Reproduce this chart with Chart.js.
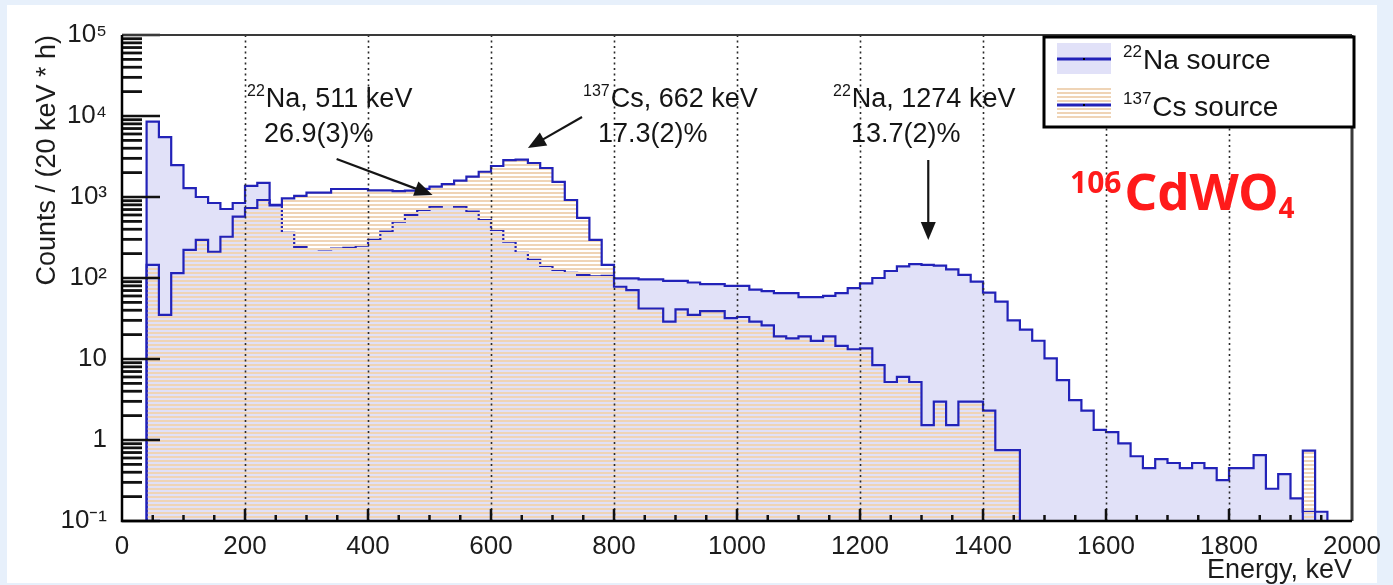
<!DOCTYPE html>
<html>
<head>
<meta charset="utf-8">
<script src="https://cdn.jsdelivr.net/npm/chart.js@4.4.1/dist/chart.umd.min.js"></script>
<style>
  html, body { margin: 0; padding: 0; }
  body { width: 1393px; height: 585px; background: #e7f0fb; position: relative; overflow: hidden; }
  #panel { position: absolute; left: 7px; top: 5px; width: 1370px; height: 578px; background: #fff; }
  #spectrum { position: absolute; left: 0; top: 0; }
</style>
</head>
<body>
<div id="panel"></div>
<canvas id="spectrum" width="1393" height="585"></canvas>
<script>
// Energy spectra, 20 keV bins from 0 to 2000 keV
const binWidth = 20;
const energyMax = 2000;

// 22Na source, counts / (20 keV * h)
const naCounts = [
  0, 0, 8500, 5500, 2480, 1290, 1000, 843, 711, 843,
  1370, 1490, 790, 360, 240, 228, 225, 230, 235, 250,
  295, 373, 495, 600, 692, 760, 797, 760, 658, 520,
  392, 281, 204, 167, 141, 126, 116, 109, 105, 106,
  99, 99, 96, 96, 92, 92, 88, 84, 84, 80,
  80, 72, 69, 65, 65, 58, 58, 60, 65, 75,
  86, 100, 122, 139, 148, 145, 142, 128, 109, 90,
  66, 51, 30, 23, 16.8, 10.2, 5.5, 3.1, 2.3, 1.33,
  1.25, 0.91, 0.63, 0.45, 0.58, 0.52, 0.45, 0.52, 0.45, 0.32,
  0.45, 0.45, 0.65, 0.25, 0.38, 0.19, 0.13, 0.13, 0, 0
];

// 137Cs source, counts / (20 keV * h)
const csCounts = [
  0, 0, 145, 35, 115, 222, 295, 211, 323, 572,
  731, 918, 800, 960, 1030, 1130, 1130, 1255, 1255, 1255,
  1210, 1210, 1180, 1200, 1260, 1340, 1445, 1590, 1780, 2050,
  2415, 2850, 2900, 2630, 2280, 1540, 918, 551, 295, 145,
  78, 71, 42, 42, 29, 41, 35, 39, 39, 32,
  33, 29, 26, 19, 18, 19, 16.7, 19, 14.5, 13.2,
  13.5, 8.4, 5.2, 6.0, 5.2, 1.53, 2.97, 1.53, 2.97, 2.97,
  2.3, 0.75, 0.75, 0, 0, 0, 0, 0, 0, 0,
  0, 0, 0, 0, 0, 0, 0, 0, 0, 0,
  0, 0, 0, 0, 0, 0, 0.74, 0, 0, 0
];

const xTickValues = [0, 200, 400, 600, 800, 1000, 1200, 1400, 1600, 1800, 2000];
const xTickLabels = ['0', '200', '400', '600', '800', '1000', '1200', '1400', '1600', '1800', '2000'];
const yTickValues = [0.1, 1, 10, 100, 1000, 10000, 100000];
const yTickLabels = ['10\u207B\u00B9', '1', '10', '10\u00B2', '10\u00B3', '10\u2074', '10\u2075'];

const yMin = 0.1;
const FONT = "'Liberation Sans', Arial, Helvetica, sans-serif";
const lineBlue = '#2222b8';
const lavender = '#e1e1f8';

Chart.defaults.font.family = FONT;
Chart.defaults.color = '#1c1c1c';

// histogram -> step points (left bin edges + closing edge); empty bins sit on the axis floor
function toSteps(counts) {
  const pts = counts.map((c, i) => ({ x: i * binWidth, y: c > 0 ? c : yMin }));
  pts.push({ x: energyMax, y: pts[pts.length - 1].y });
  return pts;
}

const canvas = document.getElementById('spectrum');
const ctx = canvas.getContext('2d');

// horizontal hatch used for the Cs histogram
const tile = document.createElement('canvas');
tile.width = 4; tile.height = 4;
const tctx = tile.getContext('2d');
tctx.fillStyle = 'rgb(239,212,182)';
tctx.fillRect(0, 0, 4, 2);
const hatch = ctx.createPattern(tile, 'repeat');

function supText(c, x, base, sup, main, size) {
  c.font = `${Math.round(size * 0.6)}px ${FONT}`;
  c.fillText(sup, x, base - size * 0.42);
  const w = c.measureText(sup).width;
  c.font = `${size}px ${FONT}`;
  c.fillText(main, x + w + 1, base);
}

function arrow(c, x0, y0, x1, y1) {
  const ang = Math.atan2(y1 - y0, x1 - x0);
  const L = 18, W = 7.5;
  c.beginPath();
  c.moveTo(x0, y0);
  c.lineTo(x1 - Math.cos(ang) * L * 0.8, y1 - Math.sin(ang) * L * 0.8);
  c.stroke();
  c.beginPath();
  c.moveTo(x1, y1);
  c.lineTo(x1 - Math.cos(ang) * L - Math.sin(ang) * W, y1 - Math.sin(ang) * L + Math.cos(ang) * W);
  c.lineTo(x1 - Math.cos(ang) * L + Math.sin(ang) * W, y1 - Math.sin(ang) * L - Math.cos(ang) * W);
  c.closePath();
  c.fill();
}

// arrows of the peak labels, in data units (keV, counts)
const peakArrows = [
  { from: [349, 2944], to: [505, 1060] },
  { from: [748, 9700], to: [660, 4030] },
  { from: [1311, 2864], to: [1311, 295] }
];

const rootStyle = {
  id: 'rootStyle',
  afterDraw(chart) {
    const { ctx: c, chartArea: a, scales: { x, y } } = chart;
    c.save();

    // dotted vertical grid
    c.strokeStyle = '#2a2a2a';
    c.lineWidth = 1.6;
    c.setLineDash([2, 3.5]);
    xTickValues.slice(1, -1).forEach(v => {
      const px = Math.round(x.getPixelForValue(v)) + 0.5;
      c.beginPath(); c.moveTo(px, a.top); c.lineTo(px, a.bottom); c.stroke();
    });
    c.setLineDash([]);

    // tick marks inside the frame
    c.strokeStyle = '#111';
    c.lineWidth = 2.5;
    for (let v = 50; v < energyMax; v += 50) {
      const px = x.getPixelForValue(v);
      const len = v % 200 === 0 ? 12 : 6;
      c.beginPath(); c.moveTo(px, a.bottom); c.lineTo(px, a.bottom - len); c.stroke();
    }
    yTickValues.forEach((d, i) => {
      const py = y.getPixelForValue(d);
      c.lineWidth = 2.5;
      c.beginPath(); c.moveTo(a.left, py); c.lineTo(a.left + 38, py); c.stroke();
      if (i < yTickValues.length - 1) {
        c.lineWidth = 2.8;
        for (let m = 2; m <= 9; m++) {
          const pm = y.getPixelForValue(d * m);
          c.beginPath(); c.moveTo(a.left, pm); c.lineTo(a.left + 20, pm); c.stroke();
        }
      }
    });

    // frame
    c.strokeStyle = '#3a3a3a';
    c.lineWidth = 2;
    c.beginPath(); c.moveTo(a.left, a.top); c.lineTo(a.right, a.top); c.stroke();
    c.lineWidth = 3;
    c.beginPath(); c.moveTo(a.right, a.top); c.lineTo(a.right, a.bottom); c.stroke();
    c.strokeStyle = '#000';
    c.lineWidth = 2.5;
    c.beginPath(); c.moveTo(a.left, a.top); c.lineTo(a.left, a.bottom); c.lineTo(a.right, a.bottom); c.stroke();

    // peak labels
    c.fillStyle = '#151515';
    c.textBaseline = 'alphabetic';
    c.textAlign = 'left';
    supText(c, a.left + 125, a.top + 72, '22', 'Na, 511 keV', 27);
    c.fillText('26.9(3)%', a.left + 142, a.top + 107);
    supText(c, a.left + 461, a.top + 72, '137', 'Cs, 662 keV', 27);
    c.fillText('17.3(2)%', a.left + 476, a.top + 107);
    supText(c, a.left + 711, a.top + 72, '22', 'Na, 1274 keV', 27);
    c.fillText('13.7(2)%', a.left + 729, a.top + 107);

    c.strokeStyle = '#151515';
    c.lineWidth = 2.2;
    peakArrows.forEach(ar => {
      arrow(c, x.getPixelForValue(ar.from[0]), y.getPixelForValue(ar.from[1]),
               x.getPixelForValue(ar.to[0]), y.getPixelForValue(ar.to[1]));
    });

    // crystal label
    c.fillStyle = '#ff1a1a';
    let tx = a.left + 948;
    c.font = `bold 30px 'Noto Sans', ${FONT}`;
    c.fillText('106', tx, a.top + 158);
    tx += c.measureText('106').width + 3;
    c.font = `bold 51px 'Noto Sans', ${FONT}`;
    c.fillText('CdWO', tx, a.top + 175);
    tx += c.measureText('CdWO').width;
    c.font = `bold 28px 'Noto Sans', ${FONT}`;
    c.fillText('4', tx, a.top + 183);

    // legend box
    const lx = a.left + 922, ly = a.top + 2, lw = a.right + 2 - (a.left + 922), lh = 90;
    c.fillStyle = '#fff';
    c.fillRect(lx, ly, lw, lh);
    c.strokeStyle = '#000';
    c.lineWidth = 3;
    c.strokeRect(lx, ly, lw, lh);

    c.fillStyle = lavender;
    c.fillRect(lx + 13, ly + 6, 54, 31);
    c.fillStyle = hatch;
    c.fillRect(lx + 13, ly + 51, 54, 32);
    c.strokeStyle = lineBlue;
    c.lineWidth = 3;
    [ly + 22, ly + 68].forEach(yy => {
      c.beginPath(); c.moveTo(lx + 13, yy); c.lineTo(lx + 67, yy); c.stroke();
      c.fillStyle = '#000';
      c.fillRect(lx + 39, yy - 1, 2, 2);
    });

    c.fillStyle = '#151515';
    supText(c, lx + 79, ly + 32, '22', 'Na source', 28);
    supText(c, lx + 79, ly + 79, '137', 'Cs source', 28);

    c.restore();
  }
};

new Chart(ctx, {
  type: 'line',
  data: {
    datasets: [
      {
        label: '137Cs source',
        data: toSteps(csCounts),
        stepped: 'before',
        borderColor: lineBlue,
        borderWidth: 2.2,
        backgroundColor: hatch,
        fill: 'start',
        pointRadius: 0
      },
      {
        label: '22Na source',
        data: toSteps(naCounts),
        stepped: 'before',
        borderColor: lineBlue,
        borderWidth: 2.2,
        backgroundColor: lavender,
        fill: 'start',
        pointRadius: 0
      }
    ]
  },
  options: {
    responsive: false,
    animation: false,
    layout: { padding: { top: 35, right: 41, bottom: 0, left: 0 } },
    plugins: { legend: { display: false }, tooltip: { enabled: false } },
    scales: {
      x: {
        type: 'linear',
        min: 0,
        max: energyMax,
        afterBuildTicks: s => { s.ticks = xTickValues.map(v => ({ value: v })); },
        afterFit: s => { s.height = 64; },
        ticks: {
          autoSkip: false,
          maxRotation: 0,
          padding: 10,
          font: { size: 26 },
          callback: (v, i) => xTickLabels[i]
        },
        grid: { display: false, drawTicks: false },
        border: { display: false },
        title: {
          display: true,
          text: 'Energy, keV',
          align: 'end',
          font: { size: 27, lineHeight: 1.1 },
          padding: { top: 0, bottom: 0 }
        }
      },
      y: {
        type: 'logarithmic',
        min: yMin,
        max: 100000,
        afterBuildTicks: s => { s.ticks = yTickValues.map(v => ({ value: v })); },
        afterFit: s => { s.width = 122; },
        ticks: {
          autoSkip: false,
          padding: 15,
          font: { size: 26 },
          callback: (v, i) => yTickLabels[i]
        },
        grid: { display: false, drawTicks: false },
        border: { display: false },
        title: {
          display: true,
          text: 'Counts / (20 keV * h)',
          align: 'end',
          font: { size: 27 },
          padding: { top: 31, bottom: 0 }
        }
      }
    }
  },
  plugins: [rootStyle]
});
</script>
</body>
</html>
